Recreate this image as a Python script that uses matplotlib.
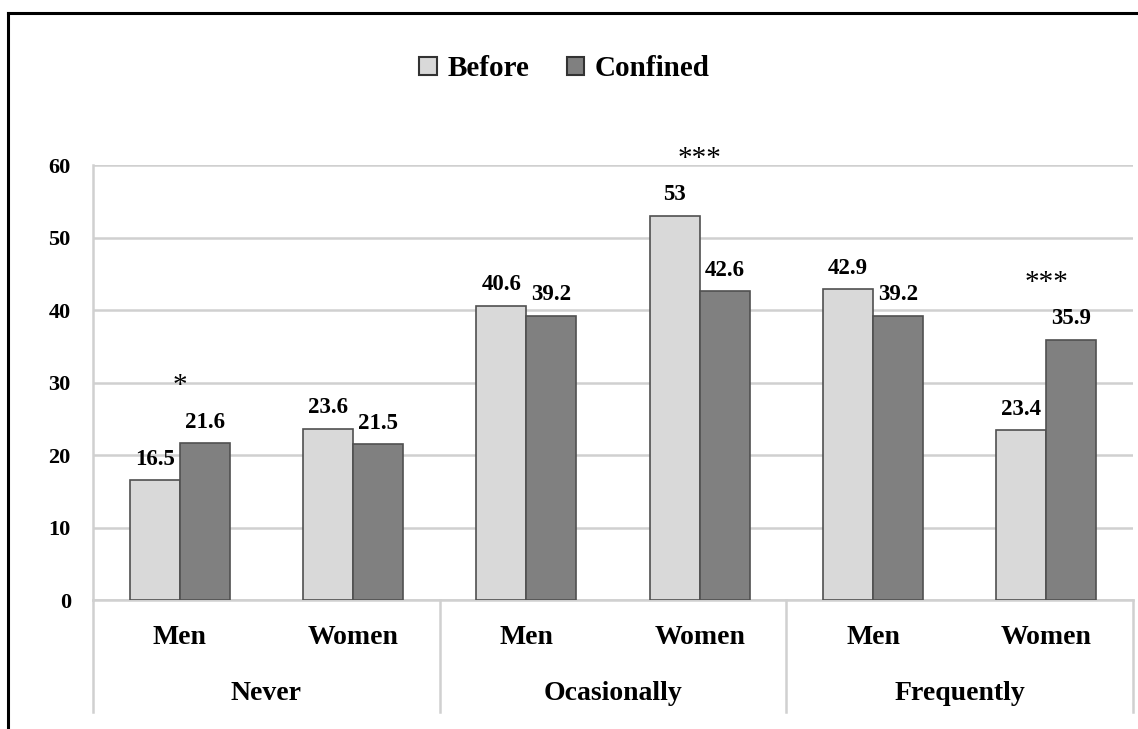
import matplotlib
matplotlib.use("Agg")
import matplotlib.pyplot as plt
from matplotlib.lines import Line2D
from matplotlib.patches import Patch
import numpy as np

# ---- data ----
groups = ["Never", "Ocasionally", "Frequently"]
sexes = ["Men", "Women"]
before = [16.5, 23.6, 40.6, 53, 42.9, 23.4]
confined = [21.6, 21.5, 39.2, 42.6, 39.2, 35.9]
signif = ["*", "", "", "***", "", "***"]
yticks = [0, 10, 20, 30, 40, 50, 60]
series_names = ["Before", "Confined"]

# ---- style ----
FONT = "Liberation Serif"
plt.rcParams["font.family"] = FONT
plt.rcParams["font.weight"] = "bold"
c_before = "#d9d9d9"
c_conf = "#808080"
edge = "#505050"
grid_c = "#d0d0d0"

W, H = 1138, 729
fig = plt.figure(figsize=(W / 100, H / 100), dpi=100)
L, R, T, B = 93, 1133, 165, 600
ax = fig.add_axes([L / W, 1 - B / H, (R - L) / W, (B - T) / H])

n = len(before)
x = np.arange(n)
bw = 0.2885
ax.bar(x - bw / 2, before, bw, color=c_before, edgecolor=edge, linewidth=1.2, zorder=3)
ax.bar(x + bw / 2, confined, bw, color=c_conf, edgecolor=edge, linewidth=1.2, zorder=3)

for i in range(n):
    ax.annotate(f"{before[i]:g}", (x[i] - bw / 2, before[i]), xytext=(0, 7.5),
                textcoords="offset points", ha="center", va="bottom",
                fontsize=16.5, fontweight="bold")
    ax.annotate(f"{confined[i]:g}", (x[i] + bw / 2, confined[i]), xytext=(0, 7.5),
                textcoords="offset points", ha="center", va="bottom",
                fontsize=16.5, fontweight="bold")
    if signif[i]:
        top = max(before[i], confined[i])
        ax.annotate(signif[i], (x[i], top), xytext=(0, 36),
                    textcoords="offset points", ha="center", va="baseline",
                    fontsize=21, fontweight="normal")

ax.set_xlim(-0.5, n - 0.5)
ax.set_ylim(0, 60)
ax.set_yticks(yticks)
ax.set_yticklabels([str(v) for v in yticks], fontsize=16, fontweight="bold")
ax.tick_params(axis="y", length=0, pad=16)
ax.set_xticks([])
ax.yaxis.grid(True, color=grid_c, linewidth=1.8, zorder=0)
ax.set_axisbelow(True)
for s in ["top", "right"]:
    ax.spines[s].set_visible(False)
ax.spines["left"].set_color(grid_c)
ax.spines["left"].set_linewidth(1.8)
ax.spines["bottom"].set_color(grid_c)
ax.spines["bottom"].set_linewidth(1.8)

# category axis (two levels)
trans = ax.get_xaxis_transform()
sub_y = -(637 - B) / (B - T)
grp_y = -(693 - B) / (B - T)
sep_bottom = -(712 - B) / (B - T)
for i in range(n):
    ax.text(x[i], sub_y, sexes[i % 2], transform=trans, ha="center", va="center",
            fontsize=20, fontweight="bold")
for g, name in enumerate(groups):
    ax.text(2 * g + 0.5, grp_y, name, transform=trans, ha="center", va="center",
            fontsize=20, fontweight="bold")
for b in [-0.5, 1.5, 3.5, 5.5]:
    ax.add_line(Line2D([b, b], [0, sep_bottom], transform=trans, color=grid_c,
                       linewidth=1.8, clip_on=False))

# legend
handles = [Patch(facecolor=c_before, edgecolor="#333333", linewidth=1.5),
           Patch(facecolor=c_conf, edgecolor="#333333", linewidth=1.5)]
fig.legend(handles, series_names, loc="center", bbox_to_anchor=(564.5 / W, 1 - 69 / H),
           ncol=2, frameon=False, prop={"family": FONT, "weight": "bold", "size": 21},
           handlelength=0.6, handleheight=0.6, handletextpad=0.35, columnspacing=1.3)

# outer frame (top and left)
fig.add_artist(Line2D([8 / W, 1.0], [1 - 12.5 / H, 1 - 12.5 / H], transform=fig.transFigure,
                      color="black", linewidth=2.2))
fig.add_artist(Line2D([8 / W, 8 / W], [0, 1 - 12.5 / H], transform=fig.transFigure,
                      color="black", linewidth=2.2))

fig.savefig("out.png", dpi=100)
